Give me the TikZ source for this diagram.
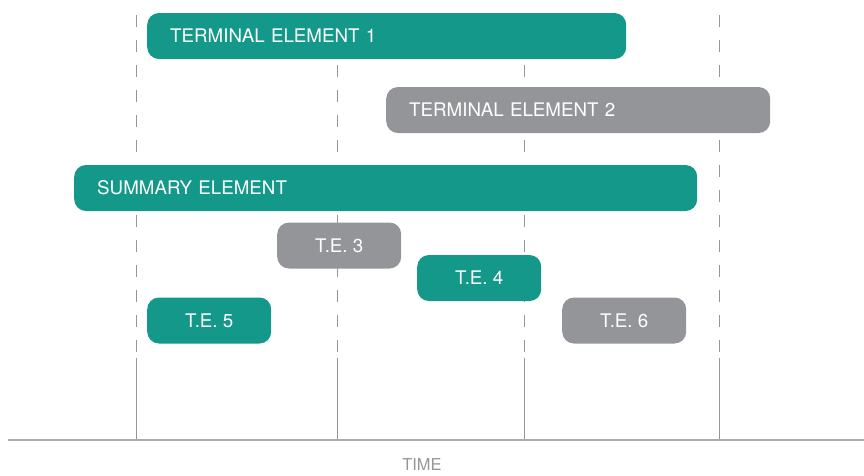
\documentclass[tikz,border=0pt]{standalone}
\usepackage{fontspec}
\setmainfont{TeX Gyre Heros}
\usepackage{tikz}
\usetikzlibrary{positioning}
\definecolor{TLTeal}{RGB}{20,152,138}
\definecolor{TLGray}{RGB}{147,149,152}
\definecolor{TLLine}{RGB}{150,150,150}

\begin{document}
\begin{tikzpicture}[
      bar/.style={rectangle, rounded corners=10pt, anchor=west,
                  minimum height=1.38cm, text=white,
                  font=\fontsize{16}{18}\selectfont},
      longbar/.style={bar, align=left, text width=#1, inner xsep=0.69cm},
      shortbar/.style={bar, minimum width=3.72cm, inner xsep=0pt},
      guide/.style={TLLine, line width=0.8pt}
    ]
    \useasboundingbox (0,0) rectangle (25.92,-14.25);

    % Time marks
    \foreach \x in {4.08,10.11,15.72,21.57} {
      \draw[guide, dash pattern=on 0.36cm off 0.39cm] (\x,-0.45) -- (\x,-10.75);
      \draw[guide] (\x,-10.75) -- (\x,-13.2);
    }

    % Time axis
    \coordinate (axisL) at (0.24,-13.2);
    \coordinate (axisR) at (25.92,-13.2);
    \draw[TLLine!80, line width=1.6pt] (axisL) -- (axisR);
    \node[TLLine, font=\fontsize{14}{16}\selectfont] (time) at (12.66,-13.95) {TIME};

    % Elements
    \node[longbar=12.99cm, fill=TLTeal] (te1) at (4.41,-1.08) {TERMINAL ELEMENT 1};
    \node[longbar=10.14cm, fill=TLGray] (te2) at (11.58,-3.30) {TERMINAL ELEMENT 2};
    \node[longbar=17.31cm, fill=TLTeal] (summary) at (2.22,-5.64) {SUMMARY ELEMENT};
    \node[shortbar, fill=TLGray] (te3) at (8.31,-7.365) {T.E. 3};
    \node[shortbar, fill=TLTeal] (te4) at (12.51,-8.34) {T.E. 4};
    \node[shortbar, fill=TLTeal] (te5) at (4.41,-9.615) {T.E. 5};
    \node[shortbar, fill=TLGray] (te6) at (16.86,-9.615) {T.E. 6};
  \end{tikzpicture}
\end{document}
